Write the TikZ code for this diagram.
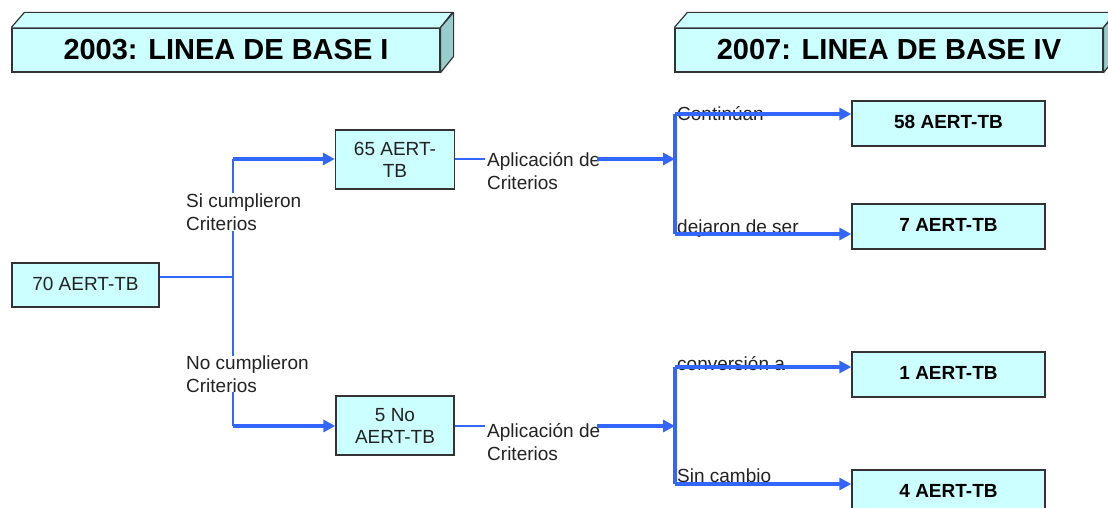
\documentclass[tikz,border=0pt]{standalone}
\usepackage{fontspec}
\setmainfont{Liberation Sans}
\usetikzlibrary{arrows.meta}
\definecolor{boxfill}{HTML}{CCFFFF}
\definecolor{sidefill}{HTML}{99CCCC}
\definecolor{edge}{HTML}{333333}
\definecolor{flow}{HTML}{3366FF}
\definecolor{txt}{HTML}{222222}
\tikzset{
  x=1pt, y=1pt,
  titlebox/.style={draw=edge, line width=1.2pt, fill=boxfill, inner sep=0pt,
    minimum width=428pt, minimum height=44pt,
    font=\fontsize{29}{34}\selectfont\bfseries},
  face/.style={draw=edge, line width=1.2pt, line join=round},
  plainbox/.style={draw=edge, line width=1.4pt, fill=boxfill, inner sep=0pt,
    align=center, text=txt, font=\fontsize{19}{22}\selectfont},
  boldbox/.style={draw=edge, line width=1.4pt, fill=boxfill, inner sep=0pt,
    minimum width=193pt, minimum height=45pt, text=black,
    font=\fontsize{19}{22}\selectfont\bfseries},
  lbl/.style={text=txt, align=left, inner sep=2pt,
    font=\fontsize{19}{23}\selectfont},
  thinline/.style={draw=flow, line width=1.8pt},
  thickline/.style={draw=flow, line width=3.2pt},
  arr/.style={-{Triangle[length=12pt,width=12pt]}},
}
\begin{document}
\begin{tikzpicture}
\useasboundingbox (0,0) rectangle (1108,-508);
\begin{scope}
\clip (0,0) rectangle (1108,-508);

% title boxes
\node[titlebox] (t1) at (226,-50) {2003: LINEA DE BASE I};
\fill[boxfill] (t1.north west) -- ++(13,15) -- ++(428,0) -- (t1.north east) -- cycle;
\draw[face] (t1.north west) -- ++(13,15) -- ++(428,0) -- (t1.north east);
\filldraw[face, fill=sidefill] (t1.north east) -- ++(13,15) -- ++(0,-44) -- (t1.south east) -- cycle;

\node[titlebox] (t2) at (889,-50) {2007: LINEA DE BASE IV};
\fill[boxfill] (t2.north west) -- ++(13,15) -- ++(428,0) -- (t2.north east) -- cycle;
\draw[face] (t2.north west) -- ++(13,15) -- ++(428,0) -- (t2.north east);
\filldraw[face, fill=sidefill] (t2.north east) -- ++(13,15) -- ++(0,-44) -- (t2.south east) -- cycle;

% nodes
\node[plainbox, minimum width=147pt, minimum height=44pt] (n70) at (85.5,-285) {\raisebox{3pt}{70 AERT-TB}};
\node[plainbox, minimum width=119pt, minimum height=59pt] (n65) at (395,-159.5) {65 AERT-\\TB};
\node[plainbox, minimum width=118pt, minimum height=59pt] (n5) at (395,-425.5) {5 No\\AERT-TB};

\node[boldbox] (n58) at (948.5,-123.5) {\raisebox{3pt}{58 AERT-TB}};
\node[boldbox] (n7) at (948.5,-226.5) {\raisebox{3pt}{7 AERT-TB}};
\node[boldbox] (n1) at (948.5,-374.5) {\raisebox{3pt}{1 AERT-TB}};
\node[boldbox] (n4) at (948.5,-492.5) {\raisebox{3pt}{4 AERT-TB}};

% junctions
\coordinate (j1) at (233,-277);
\coordinate (jt) at (233,-159);
\coordinate (jb) at (233,-426);
\coordinate (k1) at (675,-159);
\coordinate (k1t) at (675,-114);
\coordinate (k1b) at (675,-234);
\coordinate (k2) at (675,-426);
\coordinate (k2t) at (675,-367);
\coordinate (k2b) at (675,-484);

% left tree
\draw[thinline] (n70.east |- j1) -- (j1);
\draw[thinline] (jt) -- (jb);
\node[lbl, fill=white, anchor=west, inner ysep=1pt] (si) at (184,-212) {Si cumplieron\\Criterios};
\node[lbl, fill=white, anchor=west, inner ysep=0pt] (no) at (184,-374) {No cumplieron\\Criterios};
\draw[thickline, arr] (jt) -- (jt -| n65.west);
\draw[thickline, arr] (jb) -- (jb -| n5.west);

% application labels
\node[lbl, anchor=west] (a1) at (485,-171) {Aplicación de\\Criterios};
\node[lbl, anchor=west] (a2) at (485,-442) {Aplicación de\\Criterios};
\draw[thinline] (n65.east |- k1) -- (k1 -| a1.west);
\draw[thinline] (n5.east |- k2) -- (k2 -| a2.west);
\draw[thickline, arr] ([xshift=-5pt]a1.east |- k1) -- (k1);
\draw[thickline, arr] ([xshift=-5pt]a2.east |- k2) -- (k2);

% right branches
\draw[thickline] (k1t) -- (k1b);
\draw[thickline] (k2t) -- (k2b);
\node[lbl, anchor=base west, inner sep=0pt] (c1) at (677,-121) {Continúan};
\node[lbl, anchor=base west, inner sep=0pt] (c2) at (677,-233) {dejaron de ser};
\node[lbl, anchor=base west, inner sep=0pt] (c3) at (677,-370) {conversión a};
\node[lbl, anchor=base west, inner sep=0pt] (c4) at (677,-482) {Sin cambio};
\draw[thickline, arr] (k1t) -- (k1t -| n58.west);
\draw[thickline, arr] (k1b) -- (k1b -| n7.west);
\draw[thickline, arr] (k2t) -- (k2t -| n1.west);
\draw[thickline, arr] (k2b) -- (k2b -| n4.west);
\end{scope}
\end{tikzpicture}
\end{document}
